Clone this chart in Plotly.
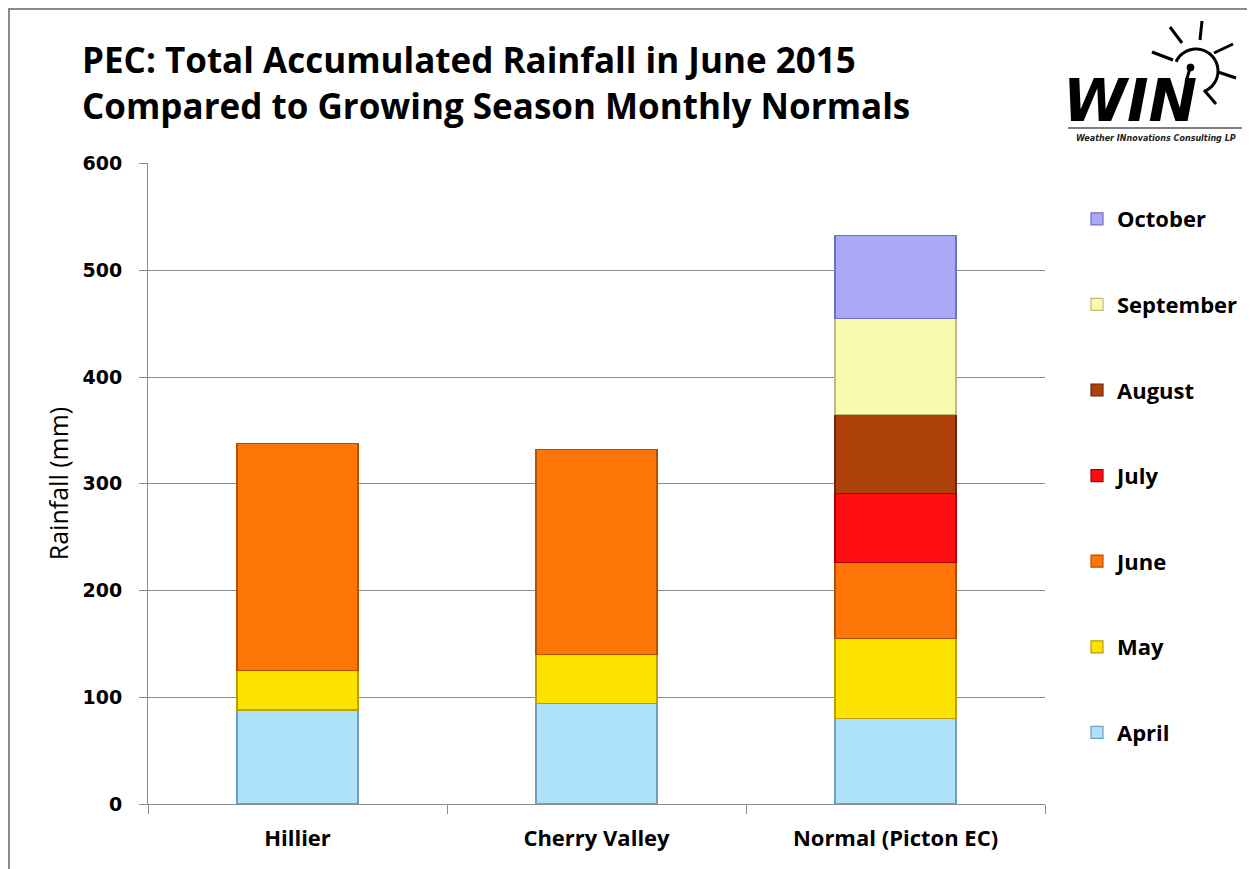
import numpy as np
import plotly.graph_objects as go

# ---------------- data ----------------
stations = ["Hillier", "Cherry Valley", "Normal (Picton EC)"]
months = ["April", "May", "June", "July", "August", "September", "October"]
april = [88, 94, 80]
may = [37, 46, 75]
june = [213, 192, 71]
july = [None, None, 65]
august = [None, None, 74]
september = [None, None, 90]
october = [None, None, 78]
series_values = [april, may, june, july, august, september, october]
y_ticks = [0, 100, 200, 300, 400, 500, 600]

colors = ["#AEE2FB", "#FFE300", "#FF7608", "#FF0D10", "#AE400A", "#FAFAAE", "#A9A9F7"]
edges = ["#6F9FC0", "#B8A000", "#B85000", "#A00008", "#6A2606", "#BDBD80", "#7070C0"]

# ---------------- layout helpers (page pixel -> paper) ----------------
OFF = 8                      # browser body margin
W, H = 1255 - OFF, 869 - OFF
PL, PR, PT, PB = 148, 1045, 163, 804   # plot area in page pixels
L, R, T, B = PL - OFF, PR - OFF, PT - OFF, PB - OFF


def px(x):
    return (x - PL) / (PR - PL)


def py(y):
    return (PB - y) / (PB - PT)


fig = go.Figure()
for i, (m, vals) in enumerate(zip(months, series_values)):
    fig.add_trace(go.Bar(
        name=m, x=stations, y=vals, legendgroup=m, legendrank=100 - i,
        marker=dict(color=colors[i], line=dict(color=edges[i], width=1.2)),
    ))

grid = "#8C8C8C"
fig.update_layout(
    width=W, height=H,
    margin=dict(l=L, r=W - R, t=T, b=H - B, autoexpand=False),
    barmode="stack", bargap=0.595,
    plot_bgcolor="white", paper_bgcolor="white",
    showlegend=True,
    legend=dict(
        x=px(1077), y=py(198), xanchor="left", yanchor="top",
        traceorder="grouped", tracegroupgap=54,
        font=dict(family="Open Sans", size=22, color="black", weight="bold"),
        itemwidth=30, bgcolor="rgba(0,0,0,0)",
    ),
    font=dict(family="Open Sans", color="black"),
)

fig.update_yaxes(
    range=[0, 600.6], tickvals=y_ticks, ticktext=[str(v) for v in y_ticks],
    showgrid=True, gridcolor=grid, gridwidth=1,
    showline=True, linecolor=grid, linewidth=1,
    ticks="outside", ticklen=8, tickcolor=grid,
    tickfont=dict(family="DejaVu Sans", size=19, color="black", weight="bold"),
    ticklabelstandoff=13, zeroline=False,
    title=dict(text="Rainfall (mm)", font=dict(family="Open Sans", size=25, color="black"), standoff=6),
)
fig.update_xaxes(
    showline=True, linecolor=grid, linewidth=1,
    ticks="outside", ticklen=9, tickcolor=grid, tickson="boundaries",
    tickfont=dict(family="Open Sans", size=22, color="black", weight="bold"),
    ticklabelstandoff=15,
)

# ---------------- title ----------------
fig.add_annotation(
    text="PEC: Total Accumulated Rainfall in June 2015<br>Compared to Growing Season Monthly Normals",
    xref="paper", yref="paper", x=px(80), y=py(34), xanchor="left", yanchor="top",
    align="left", showarrow=False,
    font=dict(family="Open Sans", size=35, color="black", weight="bold"),
)

# ---------------- outer frame ----------------
shapes = [dict(type="rect", xref="paper", yref="paper",
               x0=px(9), x1=px(1300), y0=py(9), y1=py(900),
               line=dict(color="#8A8A8A", width=2), fillcolor="rgba(0,0,0,0)", layer="below")]

# ---------------- WIN logo ----------------
fig.add_annotation(
    text="<b><i>WIN</i></b>", xref="paper", yref="paper",
    x=px(1130), y=py(101), xanchor="center", yanchor="middle", showarrow=False,
    height=46, valign="middle",
    font=dict(family="DejaVu Sans", size=58, color="black"),
)
fig.add_annotation(
    text="<b><i>Weather INnovations Consulting LP</i></b>", xref="paper", yref="paper",
    x=px(1156), y=py(138), xanchor="center", yanchor="middle", showarrow=False,
    font=dict(family="DejaVu Sans", size=8, color="#222222"),
)
shapes.append(dict(type="line", xref="paper", yref="paper",
                   x0=px(1068), x1=px(1242), y0=py(128), y1=py(128),
                   line=dict(color="#555555", width=1.5)))
# sun arc
cx, cy, r = 1196, 71, 22
ang = np.radians(np.linspace(155, -65, 30))
pts = [(px(cx + r * np.cos(a)), py(cy - r * np.sin(a))) for a in ang]
path = "M " + " L ".join(f"{a:.5f},{b:.5f}" for a, b in pts)
shapes.append(dict(type="path", xref="paper", yref="paper", path=path,
                   line=dict(color="black", width=3)))
# rays
rays = [((1170, 27), (1182, 43)), ((1202, 21), (1200, 40)), ((1233, 44), (1214, 53)),
        ((1152, 52), (1173, 60)), ((1236, 78), (1218, 72)), ((1204, 90), (1216, 104))]
for (x0, y0), (x1, y1) in rays:
    shapes.append(dict(type="line", xref="paper", yref="paper",
                       x0=px(x0), y0=py(y0), x1=px(x1), y1=py(y1),
                       line=dict(color="black", width=3)))
# antenna
shapes.append(dict(type="line", xref="paper", yref="paper",
                   x0=px(1190), y0=py(68), x1=px(1186), y1=py(82),
                   line=dict(color="black", width=3)))
shapes.append(dict(type="circle", xref="paper", yref="paper",
                   x0=px(1187), x1=px(1194), y0=py(64), y1=py(71),
                   fillcolor="black", line=dict(color="black", width=1)))
fig.update_layout(shapes=shapes)

fig.write_html("out.html")
